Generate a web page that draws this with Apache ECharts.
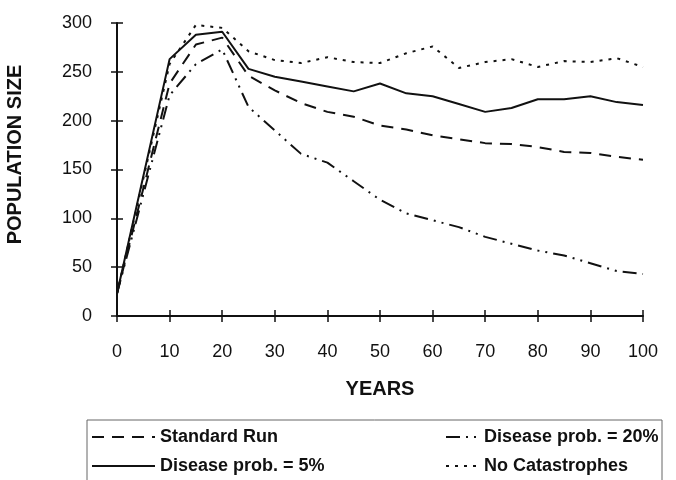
<!DOCTYPE html>
<html>
<head>
<meta charset="utf-8">
<script src="https://cdn.jsdelivr.net/npm/echarts@6/dist/echarts.min.js"></script>
<style>
  html, body { margin: 0; padding: 0; background: #fff; }
  #main { width: 676px; height: 480px; }
</style>
</head>
<body>
<div id="main"></div>
<script>
var years = [0, 10, 15, 20, 25, 30, 35, 40, 45, 50, 55, 60, 65, 70, 75, 80, 85, 90, 95, 100];
var standardRun = [23, 238, 278, 285, 246, 231, 218, 209, 204, 195, 191, 185, 181, 177, 176, 173, 168, 167, 163, 160];
var disease5 = [23, 263, 288, 291, 253, 245, 240, 235, 230, 238, 228, 225, 217, 209, 213, 222, 222, 225, 219, 216];
var disease20 = [23, 226, 258, 273, 214, 190, 166, 157, 138, 119, 105, 98, 91, 81, 74, 67, 62, 54, 46, 43];
var noCatastrophes = [23, 258, 298, 295, 271, 262, 259, 265, 260, 259, 269, 276, 254, 260, 263, 255, 261, 260, 264, 255];

var FONT = 'Liberation Sans';

function pairs(vals) {
  var out = [];
  for (var i = 0; i < years.length; i++) {
    out.push([years[i], vals[i]]);
  }
  return out;
}

function line(name, vals, type) {
  return {
    name: name,
    type: 'line',
    data: pairs(vals),
    symbol: 'none',
    silent: true,
    lineStyle: { color: '#111', width: 2, type: type },
    itemStyle: { color: '#111' }
  };
}

// legend text style, shared by both columns
var legendText = { fontFamily: FONT, fontSize: 18, fontWeight: 'bold', color: '#111', lineHeight: 18 };

var chart = echarts.init(document.getElementById('main'));
chart.setOption({
  backgroundColor: '#fff',
  animation: false,
  grid: { left: 117, right: 33, top: 23, bottom: 164, outerBoundsMode: 'none' },
  xAxis: [{
    type: 'value', min: 0, max: 100, interval: 10,
    name: 'YEARS', nameLocation: 'middle', nameGap: 63,
    nameTextStyle: { fontFamily: FONT, fontSize: 20, fontWeight: 'bold', color: '#111' },
    axisLine: { lineStyle: { color: '#111', width: 2 } },
    axisTick: { length: 6, lineStyle: { color: '#111', width: 1.5 } },
    axisLabel: { fontFamily: FONT, fontSize: 18, color: '#111', margin: 27 },
    splitLine: { show: false }
  }, {
    type: 'value', min: 0, max: 100, interval: 10, position: 'bottom',
    axisLine: { show: false },
    axisTick: { inside: true, length: 6, lineStyle: { color: '#111', width: 1.5 } },
    axisLabel: { show: false },
    splitLine: { show: false }
  }],
  yAxis: [{
    type: 'value', min: 0, max: 300, interval: 50,
    name: 'POPULATION SIZE', nameLocation: 'middle', nameGap: 92, nameRotate: 90,
    nameTextStyle: { fontFamily: FONT, fontSize: 20, fontWeight: 'bold', color: '#111', padding: [0, 0, 0, 30] },
    axisLine: { lineStyle: { color: '#111', width: 2 } },
    axisTick: { length: 6, lineStyle: { color: '#111', width: 1.5 } },
    axisLabel: { fontFamily: FONT, fontSize: 18, color: '#111', margin: 25 },
    splitLine: { show: false }
  }, {
    type: 'value', min: 0, max: 300, interval: 50, position: 'left',
    axisLine: { show: false },
    axisTick: { inside: true, length: 6, lineStyle: { color: '#111', width: 1.5 } },
    axisLabel: { show: false },
    splitLine: { show: false }
  }],
  legend: [{
    data: ['Standard Run', 'Disease prob. = 5%'],
    orient: 'vertical', left: 91, top: 428, padding: 0,
    itemWidth: 63, itemHeight: 18, itemGap: 11,
    selectedMode: false,
    itemStyle: { opacity: 0 },
    textStyle: legendText
  }, {
    data: ['Disease prob. = 20%', 'No Catastrophes'],
    orient: 'vertical', left: 445, top: 428, padding: 0,
    itemWidth: 33, itemHeight: 18, itemGap: 11,
    selectedMode: false,
    itemStyle: { opacity: 0 },
    textStyle: legendText
  }],
  graphic: [{
    type: 'rect', silent: true,
    shape: { x: 87, y: 420, width: 575, height: 80 },
    style: { fill: 'none', stroke: '#666', lineWidth: 1 }
  }],
  series: [
    line('Standard Run', standardRun, [12, 8]),
    line('Disease prob. = 20%', disease20, [14, 6, 2, 6, 2, 6]),
    line('Disease prob. = 5%', disease5, 'solid'),
    line('No Catastrophes', noCatastrophes, [3, 6])
  ]
});
</script>
</body>
</html>
